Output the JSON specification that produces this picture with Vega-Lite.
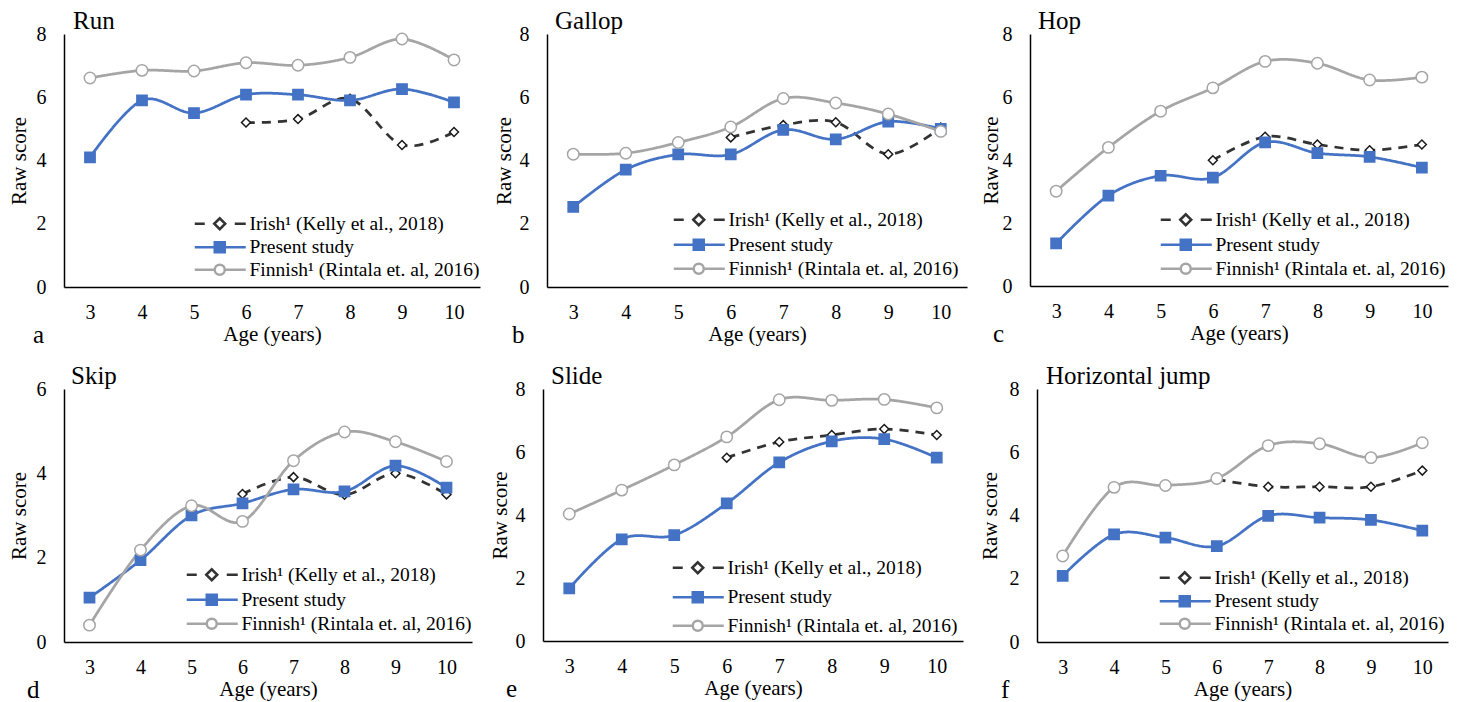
{
  "$schema": "https://vega.github.io/schema/vega-lite/v6.json",
  "background": "white",
  "padding": {"left": 8, "top": 9, "right": 0, "bottom": 0},
  "datasets": {
    "scores": [
      {"panel": "Run", "series": "Irish¹ (Kelly et al., 2018)", "age": 6, "score": 5.20},
      {"panel": "Run", "series": "Irish¹ (Kelly et al., 2018)", "age": 7, "score": 5.31},
      {"panel": "Run", "series": "Irish¹ (Kelly et al., 2018)", "age": 8, "score": 5.95},
      {"panel": "Run", "series": "Irish¹ (Kelly et al., 2018)", "age": 9, "score": 4.49},
      {"panel": "Run", "series": "Irish¹ (Kelly et al., 2018)", "age": 10, "score": 4.90},
      {"panel": "Run", "series": "Present study", "age": 3, "score": 4.10},
      {"panel": "Run", "series": "Present study", "age": 4, "score": 5.90},
      {"panel": "Run", "series": "Present study", "age": 5, "score": 5.50},
      {"panel": "Run", "series": "Present study", "age": 6, "score": 6.08},
      {"panel": "Run", "series": "Present study", "age": 7, "score": 6.08},
      {"panel": "Run", "series": "Present study", "age": 8, "score": 5.90},
      {"panel": "Run", "series": "Present study", "age": 9, "score": 6.26},
      {"panel": "Run", "series": "Present study", "age": 10, "score": 5.84},
      {"panel": "Run", "series": "Finnish¹ (Rintala et. al, 2016)", "age": 3, "score": 6.61},
      {"panel": "Run", "series": "Finnish¹ (Rintala et. al, 2016)", "age": 4, "score": 6.85},
      {"panel": "Run", "series": "Finnish¹ (Rintala et. al, 2016)", "age": 5, "score": 6.83},
      {"panel": "Run", "series": "Finnish¹ (Rintala et. al, 2016)", "age": 6, "score": 7.09},
      {"panel": "Run", "series": "Finnish¹ (Rintala et. al, 2016)", "age": 7, "score": 7.01},
      {"panel": "Run", "series": "Finnish¹ (Rintala et. al, 2016)", "age": 8, "score": 7.26},
      {"panel": "Run", "series": "Finnish¹ (Rintala et. al, 2016)", "age": 9, "score": 7.84},
      {"panel": "Run", "series": "Finnish¹ (Rintala et. al, 2016)", "age": 10, "score": 7.18},

      {"panel": "Gallop", "series": "Irish¹ (Kelly et al., 2018)", "age": 6, "score": 4.73},
      {"panel": "Gallop", "series": "Irish¹ (Kelly et al., 2018)", "age": 7, "score": 5.12},
      {"panel": "Gallop", "series": "Irish¹ (Kelly et al., 2018)", "age": 8, "score": 5.21},
      {"panel": "Gallop", "series": "Irish¹ (Kelly et al., 2018)", "age": 9, "score": 4.20},
      {"panel": "Gallop", "series": "Irish¹ (Kelly et al., 2018)", "age": 10, "score": 5.04},
      {"panel": "Gallop", "series": "Present study", "age": 3, "score": 2.53},
      {"panel": "Gallop", "series": "Present study", "age": 4, "score": 3.71},
      {"panel": "Gallop", "series": "Present study", "age": 5, "score": 4.19},
      {"panel": "Gallop", "series": "Present study", "age": 6, "score": 4.19},
      {"panel": "Gallop", "series": "Present study", "age": 7, "score": 4.97},
      {"panel": "Gallop", "series": "Present study", "age": 8, "score": 4.67},
      {"panel": "Gallop", "series": "Present study", "age": 9, "score": 5.23},
      {"panel": "Gallop", "series": "Present study", "age": 10, "score": 5.00},
      {"panel": "Gallop", "series": "Finnish¹ (Rintala et. al, 2016)", "age": 3, "score": 4.20},
      {"panel": "Gallop", "series": "Finnish¹ (Rintala et. al, 2016)", "age": 4, "score": 4.23},
      {"panel": "Gallop", "series": "Finnish¹ (Rintala et. al, 2016)", "age": 5, "score": 4.57},
      {"panel": "Gallop", "series": "Finnish¹ (Rintala et. al, 2016)", "age": 6, "score": 5.06},
      {"panel": "Gallop", "series": "Finnish¹ (Rintala et. al, 2016)", "age": 7, "score": 5.96},
      {"panel": "Gallop", "series": "Finnish¹ (Rintala et. al, 2016)", "age": 8, "score": 5.82},
      {"panel": "Gallop", "series": "Finnish¹ (Rintala et. al, 2016)", "age": 9, "score": 5.47},
      {"panel": "Gallop", "series": "Finnish¹ (Rintala et. al, 2016)", "age": 10, "score": 4.92},

      {"panel": "Hop", "series": "Irish¹ (Kelly et al., 2018)", "age": 6, "score": 3.99},
      {"panel": "Hop", "series": "Irish¹ (Kelly et al., 2018)", "age": 7, "score": 4.74},
      {"panel": "Hop", "series": "Irish¹ (Kelly et al., 2018)", "age": 8, "score": 4.49},
      {"panel": "Hop", "series": "Irish¹ (Kelly et al., 2018)", "age": 9, "score": 4.31},
      {"panel": "Hop", "series": "Irish¹ (Kelly et al., 2018)", "age": 10, "score": 4.49},
      {"panel": "Hop", "series": "Present study", "age": 3, "score": 1.35},
      {"panel": "Hop", "series": "Present study", "age": 4, "score": 2.87},
      {"panel": "Hop", "series": "Present study", "age": 5, "score": 3.50},
      {"panel": "Hop", "series": "Present study", "age": 6, "score": 3.44},
      {"panel": "Hop", "series": "Present study", "age": 7, "score": 4.56},
      {"panel": "Hop", "series": "Present study", "age": 8, "score": 4.22},
      {"panel": "Hop", "series": "Present study", "age": 9, "score": 4.10},
      {"panel": "Hop", "series": "Present study", "age": 10, "score": 3.76},
      {"panel": "Hop", "series": "Finnish¹ (Rintala et. al, 2016)", "age": 3, "score": 3.01},
      {"panel": "Hop", "series": "Finnish¹ (Rintala et. al, 2016)", "age": 4, "score": 4.40},
      {"panel": "Hop", "series": "Finnish¹ (Rintala et. al, 2016)", "age": 5, "score": 5.55},
      {"panel": "Hop", "series": "Finnish¹ (Rintala et. al, 2016)", "age": 6, "score": 6.29},
      {"panel": "Hop", "series": "Finnish¹ (Rintala et. al, 2016)", "age": 7, "score": 7.13},
      {"panel": "Hop", "series": "Finnish¹ (Rintala et. al, 2016)", "age": 8, "score": 7.07},
      {"panel": "Hop", "series": "Finnish¹ (Rintala et. al, 2016)", "age": 9, "score": 6.54},
      {"panel": "Hop", "series": "Finnish¹ (Rintala et. al, 2016)", "age": 10, "score": 6.63},

      {"panel": "Skip", "series": "Irish¹ (Kelly et al., 2018)", "age": 6, "score": 3.51},
      {"panel": "Skip", "series": "Irish¹ (Kelly et al., 2018)", "age": 7, "score": 3.91},
      {"panel": "Skip", "series": "Irish¹ (Kelly et al., 2018)", "age": 8, "score": 3.49},
      {"panel": "Skip", "series": "Irish¹ (Kelly et al., 2018)", "age": 9, "score": 4.00},
      {"panel": "Skip", "series": "Irish¹ (Kelly et al., 2018)", "age": 10, "score": 3.50},
      {"panel": "Skip", "series": "Present study", "age": 3, "score": 1.05},
      {"panel": "Skip", "series": "Present study", "age": 4, "score": 1.94},
      {"panel": "Skip", "series": "Present study", "age": 5, "score": 3.00},
      {"panel": "Skip", "series": "Present study", "age": 6, "score": 3.29},
      {"panel": "Skip", "series": "Present study", "age": 7, "score": 3.62},
      {"panel": "Skip", "series": "Present study", "age": 8, "score": 3.57},
      {"panel": "Skip", "series": "Present study", "age": 9, "score": 4.18},
      {"panel": "Skip", "series": "Present study", "age": 10, "score": 3.66},
      {"panel": "Skip", "series": "Finnish¹ (Rintala et. al, 2016)", "age": 3, "score": 0.40},
      {"panel": "Skip", "series": "Finnish¹ (Rintala et. al, 2016)", "age": 4, "score": 2.18},
      {"panel": "Skip", "series": "Finnish¹ (Rintala et. al, 2016)", "age": 5, "score": 3.23},
      {"panel": "Skip", "series": "Finnish¹ (Rintala et. al, 2016)", "age": 6, "score": 2.86},
      {"panel": "Skip", "series": "Finnish¹ (Rintala et. al, 2016)", "age": 7, "score": 4.30},
      {"panel": "Skip", "series": "Finnish¹ (Rintala et. al, 2016)", "age": 8, "score": 4.98},
      {"panel": "Skip", "series": "Finnish¹ (Rintala et. al, 2016)", "age": 9, "score": 4.75},
      {"panel": "Skip", "series": "Finnish¹ (Rintala et. al, 2016)", "age": 10, "score": 4.28},

      {"panel": "Slide", "series": "Irish¹ (Kelly et al., 2018)", "age": 6, "score": 5.82},
      {"panel": "Slide", "series": "Irish¹ (Kelly et al., 2018)", "age": 7, "score": 6.32},
      {"panel": "Slide", "series": "Irish¹ (Kelly et al., 2018)", "age": 8, "score": 6.54},
      {"panel": "Slide", "series": "Irish¹ (Kelly et al., 2018)", "age": 9, "score": 6.73},
      {"panel": "Slide", "series": "Irish¹ (Kelly et al., 2018)", "age": 10, "score": 6.54},
      {"panel": "Slide", "series": "Present study", "age": 3, "score": 1.67},
      {"panel": "Slide", "series": "Present study", "age": 4, "score": 3.23},
      {"panel": "Slide", "series": "Present study", "age": 5, "score": 3.36},
      {"panel": "Slide", "series": "Present study", "age": 6, "score": 4.37},
      {"panel": "Slide", "series": "Present study", "age": 7, "score": 5.67},
      {"panel": "Slide", "series": "Present study", "age": 8, "score": 6.34},
      {"panel": "Slide", "series": "Present study", "age": 9, "score": 6.41},
      {"panel": "Slide", "series": "Present study", "age": 10, "score": 5.82},
      {"panel": "Slide", "series": "Finnish¹ (Rintala et. al, 2016)", "age": 3, "score": 4.03},
      {"panel": "Slide", "series": "Finnish¹ (Rintala et. al, 2016)", "age": 4, "score": 4.79},
      {"panel": "Slide", "series": "Finnish¹ (Rintala et. al, 2016)", "age": 5, "score": 5.59},
      {"panel": "Slide", "series": "Finnish¹ (Rintala et. al, 2016)", "age": 6, "score": 6.48},
      {"panel": "Slide", "series": "Finnish¹ (Rintala et. al, 2016)", "age": 7, "score": 7.66},
      {"panel": "Slide", "series": "Finnish¹ (Rintala et. al, 2016)", "age": 8, "score": 7.64},
      {"panel": "Slide", "series": "Finnish¹ (Rintala et. al, 2016)", "age": 9, "score": 7.67},
      {"panel": "Slide", "series": "Finnish¹ (Rintala et. al, 2016)", "age": 10, "score": 7.40},

      {"panel": "Horizontal jump", "series": "Irish¹ (Kelly et al., 2018)", "age": 6, "score": 5.14},
      {"panel": "Horizontal jump", "series": "Irish¹ (Kelly et al., 2018)", "age": 7, "score": 4.91},
      {"panel": "Horizontal jump", "series": "Irish¹ (Kelly et al., 2018)", "age": 8, "score": 4.91},
      {"panel": "Horizontal jump", "series": "Irish¹ (Kelly et al., 2018)", "age": 9, "score": 4.91},
      {"panel": "Horizontal jump", "series": "Irish¹ (Kelly et al., 2018)", "age": 10, "score": 5.42},
      {"panel": "Horizontal jump", "series": "Present study", "age": 3, "score": 2.09},
      {"panel": "Horizontal jump", "series": "Present study", "age": 4, "score": 3.40},
      {"panel": "Horizontal jump", "series": "Present study", "age": 5, "score": 3.30},
      {"panel": "Horizontal jump", "series": "Present study", "age": 6, "score": 3.03},
      {"panel": "Horizontal jump", "series": "Present study", "age": 7, "score": 3.99},
      {"panel": "Horizontal jump", "series": "Present study", "age": 8, "score": 3.93},
      {"panel": "Horizontal jump", "series": "Present study", "age": 9, "score": 3.86},
      {"panel": "Horizontal jump", "series": "Present study", "age": 10, "score": 3.52},
      {"panel": "Horizontal jump", "series": "Finnish¹ (Rintala et. al, 2016)", "age": 3, "score": 2.72},
      {"panel": "Horizontal jump", "series": "Finnish¹ (Rintala et. al, 2016)", "age": 4, "score": 4.89},
      {"panel": "Horizontal jump", "series": "Finnish¹ (Rintala et. al, 2016)", "age": 5, "score": 4.95},
      {"panel": "Horizontal jump", "series": "Finnish¹ (Rintala et. al, 2016)", "age": 6, "score": 5.17},
      {"panel": "Horizontal jump", "series": "Finnish¹ (Rintala et. al, 2016)", "age": 7, "score": 6.21},
      {"panel": "Horizontal jump", "series": "Finnish¹ (Rintala et. al, 2016)", "age": 8, "score": 6.27},
      {"panel": "Horizontal jump", "series": "Finnish¹ (Rintala et. al, 2016)", "age": 9, "score": 5.83},
      {"panel": "Horizontal jump", "series": "Finnish¹ (Rintala et. al, 2016)", "age": 10, "score": 6.30}
    ]
  },
  "data": {"name": "scores"},
  "spacing": 16,
  "vconcat": [
    {
      "spacing": 13,
      "hconcat": [
        {
          "title": {"text": "a", "orient": "bottom", "anchor": "start", "offset": -21, "dx": 25},
          "vconcat": [{
            "width": 416, "height": 253,
            "title": {"text": "Run", "anchor": "start", "frame": "group", "dx": 9, "offset": -10},
            "transform": [{"filter": "datum.panel === 'Run'"}],
            "resolve": {"scale": {"shape": "independent", "fill": "independent", "stroke": "independent"}},
            "encoding": {
              "x": {"field": "age", "type": "quantitative", "scale": {"domain": [2.5, 10.5], "nice": false}, "axis": {"values": [3, 4, 5, 6, 7, 8, 9, 10], "title": "Age (years)"}},
              "y": {"field": "score", "type": "quantitative", "scale": {"domain": [0, 8], "nice": false}, "axis": {"values": [0, 2, 4, 6, 8], "title": "Raw score", "titlePadding": 7}}
            },
            "layer": [
              {"mark": {"type": "line", "interpolate": "cardinal", "strokeWidth": 2.75},
               "encoding": {
                 "color": {"field": "series", "type": "nominal", "scale": {"domain": ["Irish¹ (Kelly et al., 2018)", "Present study", "Finnish¹ (Rintala et. al, 2016)"], "range": ["#333333", "#4472C4", "#A5A5A5"]}, "legend": null},
                 "strokeDash": {"field": "series", "type": "nominal", "scale": {"domain": ["Irish¹ (Kelly et al., 2018)", "Present study", "Finnish¹ (Rintala et. al, 2016)"], "range": [[9, 7], [1, 0], [1, 0]]}, "legend": null}
               }},
              {"mark": {"type": "point", "filled": true, "strokeWidth": 1.5, "opacity": 1},
               "encoding": {
                 "shape": {"field": "series", "type": "nominal", "scale": {"domain": ["Irish¹ (Kelly et al., 2018)", "Present study", "Finnish¹ (Rintala et. al, 2016)"], "range": ["diamond", "square", "circle"]}, "legend": null},
                 "fill": {"field": "series", "type": "nominal", "scale": {"domain": ["Irish¹ (Kelly et al., 2018)", "Present study", "Finnish¹ (Rintala et. al, 2016)"], "range": ["#ffffff", "#4472C4", "#ffffff"]}, "legend": null},
                 "stroke": {"field": "series", "type": "nominal", "scale": {"domain": ["Irish¹ (Kelly et al., 2018)", "Present study", "Finnish¹ (Rintala et. al, 2016)"], "range": ["#1a1a1a", "#4472C4", "#A5A5A5"]}, "legend": null},
                 "size": {"field": "series", "type": "ordinal", "scale": {"domain": ["Irish¹ (Kelly et al., 2018)", "Present study", "Finnish¹ (Rintala et. al, 2016)"], "range": [80, 130, 110]}, "legend": null}
               }},
              {"mark": {"type": "point", "filled": true, "opacity": 0, "size": 100},
               "encoding": {
                 "shape": {"field": "series", "type": "nominal", "scale": {"domain": ["Irish¹ (Kelly et al., 2018)", "Present study", "Finnish¹ (Rintala et. al, 2016)"], "range": ["M-5,0H-3M-1.1,0L0,-1.1L1.1,0L0,1.1ZM3,0H5.2", "M-5,0H5.2M-1,-1H1V1H-1Z", "M-5,0H-1M1,0H5.2M-1,0A1,1 0 1,0 1,0A1,1 0 1,0 -1,0Z"]},
                   "legend": {"title": " ", "titleOrient": "bottom", "titleFontSize": 1, "titlePadding": 6, "offset": 0, "rowPadding": 1.5}},
                 "fill": {"field": "series", "type": "nominal", "scale": {"domain": ["Irish¹ (Kelly et al., 2018)", "Present study", "Finnish¹ (Rintala et. al, 2016)"], "range": ["#ffffff", "#4472C4", "#ffffff"]}},
                 "stroke": {"field": "series", "type": "nominal", "scale": {"domain": ["Irish¹ (Kelly et al., 2018)", "Present study", "Finnish¹ (Rintala et. al, 2016)"], "range": ["#333333", "#4472C4", "#A5A5A5"]}}
               }}
            ]
          }]
        },
        {
          "title": {"text": "b", "orient": "bottom", "anchor": "start", "offset": -21, "dx": 19},
          "vconcat": [{
            "width": 420, "height": 253,
            "title": {"text": "Gallop", "anchor": "start", "frame": "group", "dx": 8, "offset": -10},
            "transform": [{"filter": "datum.panel === 'Gallop'"}],
            "resolve": {"scale": {"shape": "independent", "fill": "independent", "stroke": "independent"}},
            "encoding": {
              "x": {"field": "age", "type": "quantitative", "scale": {"domain": [2.5, 10.5], "nice": false}, "axis": {"values": [3, 4, 5, 6, 7, 8, 9, 10], "title": "Age (years)"}},
              "y": {"field": "score", "type": "quantitative", "scale": {"domain": [0, 8], "nice": false}, "axis": {"values": [0, 2, 4, 6, 8], "title": "Raw score", "titlePadding": 5}}
            },
            "layer": [
              {"mark": {"type": "line", "interpolate": "cardinal", "strokeWidth": 2.75},
               "encoding": {
                 "color": {"field": "series", "type": "nominal", "scale": {"domain": ["Irish¹ (Kelly et al., 2018)", "Present study", "Finnish¹ (Rintala et. al, 2016)"], "range": ["#333333", "#4472C4", "#A5A5A5"]}, "legend": null},
                 "strokeDash": {"field": "series", "type": "nominal", "scale": {"domain": ["Irish¹ (Kelly et al., 2018)", "Present study", "Finnish¹ (Rintala et. al, 2016)"], "range": [[9, 7], [1, 0], [1, 0]]}, "legend": null}
               }},
              {"mark": {"type": "point", "filled": true, "strokeWidth": 1.5, "opacity": 1},
               "encoding": {
                 "shape": {"field": "series", "type": "nominal", "scale": {"domain": ["Irish¹ (Kelly et al., 2018)", "Present study", "Finnish¹ (Rintala et. al, 2016)"], "range": ["diamond", "square", "circle"]}, "legend": null},
                 "fill": {"field": "series", "type": "nominal", "scale": {"domain": ["Irish¹ (Kelly et al., 2018)", "Present study", "Finnish¹ (Rintala et. al, 2016)"], "range": ["#ffffff", "#4472C4", "#ffffff"]}, "legend": null},
                 "stroke": {"field": "series", "type": "nominal", "scale": {"domain": ["Irish¹ (Kelly et al., 2018)", "Present study", "Finnish¹ (Rintala et. al, 2016)"], "range": ["#1a1a1a", "#4472C4", "#A5A5A5"]}, "legend": null},
                 "size": {"field": "series", "type": "ordinal", "scale": {"domain": ["Irish¹ (Kelly et al., 2018)", "Present study", "Finnish¹ (Rintala et. al, 2016)"], "range": [80, 130, 110]}, "legend": null}
               }},
              {"mark": {"type": "point", "filled": true, "opacity": 0, "size": 100},
               "encoding": {
                 "shape": {"field": "series", "type": "nominal", "scale": {"domain": ["Irish¹ (Kelly et al., 2018)", "Present study", "Finnish¹ (Rintala et. al, 2016)"], "range": ["M-5,0H-3M-1.1,0L0,-1.1L1.1,0L0,1.1ZM3,0H5.2", "M-5,0H5.2M-1,-1H1V1H-1Z", "M-5,0H-1M1,0H5.2M-1,0A1,1 0 1,0 1,0A1,1 0 1,0 -1,0Z"]},
                   "legend": {"title": null, "offset": 8, "rowPadding": 3}},
                 "fill": {"field": "series", "type": "nominal", "scale": {"domain": ["Irish¹ (Kelly et al., 2018)", "Present study", "Finnish¹ (Rintala et. al, 2016)"], "range": ["#ffffff", "#4472C4", "#ffffff"]}},
                 "stroke": {"field": "series", "type": "nominal", "scale": {"domain": ["Irish¹ (Kelly et al., 2018)", "Present study", "Finnish¹ (Rintala et. al, 2016)"], "range": ["#333333", "#4472C4", "#A5A5A5"]}}
               }}
            ]
          }]
        },
        {
          "title": {"text": "c", "orient": "bottom", "anchor": "start", "offset": -21, "dx": 13},
          "vconcat": [{
            "width": 418, "height": 252,
            "title": {"text": "Hop", "anchor": "start", "frame": "group", "dx": 8, "offset": -10},
            "transform": [{"filter": "datum.panel === 'Hop'"}],
            "resolve": {"scale": {"shape": "independent", "fill": "independent", "stroke": "independent"}},
            "encoding": {
              "x": {"field": "age", "type": "quantitative", "scale": {"domain": [2.5, 10.5], "nice": false}, "axis": {"values": [3, 4, 5, 6, 7, 8, 9, 10], "title": "Age (years)"}},
              "y": {"field": "score", "type": "quantitative", "scale": {"domain": [0, 8], "nice": false}, "axis": {"values": [0, 2, 4, 6, 8], "title": "Raw score", "titlePadding": 1}}
            },
            "layer": [
              {"mark": {"type": "line", "interpolate": "cardinal", "strokeWidth": 2.75},
               "encoding": {
                 "color": {"field": "series", "type": "nominal", "scale": {"domain": ["Irish¹ (Kelly et al., 2018)", "Present study", "Finnish¹ (Rintala et. al, 2016)"], "range": ["#333333", "#4472C4", "#A5A5A5"]}, "legend": null},
                 "strokeDash": {"field": "series", "type": "nominal", "scale": {"domain": ["Irish¹ (Kelly et al., 2018)", "Present study", "Finnish¹ (Rintala et. al, 2016)"], "range": [[9, 7], [1, 0], [1, 0]]}, "legend": null}
               }},
              {"mark": {"type": "point", "filled": true, "strokeWidth": 1.5, "opacity": 1},
               "encoding": {
                 "shape": {"field": "series", "type": "nominal", "scale": {"domain": ["Irish¹ (Kelly et al., 2018)", "Present study", "Finnish¹ (Rintala et. al, 2016)"], "range": ["diamond", "square", "circle"]}, "legend": null},
                 "fill": {"field": "series", "type": "nominal", "scale": {"domain": ["Irish¹ (Kelly et al., 2018)", "Present study", "Finnish¹ (Rintala et. al, 2016)"], "range": ["#ffffff", "#4472C4", "#ffffff"]}, "legend": null},
                 "stroke": {"field": "series", "type": "nominal", "scale": {"domain": ["Irish¹ (Kelly et al., 2018)", "Present study", "Finnish¹ (Rintala et. al, 2016)"], "range": ["#1a1a1a", "#4472C4", "#A5A5A5"]}, "legend": null},
                 "size": {"field": "series", "type": "ordinal", "scale": {"domain": ["Irish¹ (Kelly et al., 2018)", "Present study", "Finnish¹ (Rintala et. al, 2016)"], "range": [80, 130, 110]}, "legend": null}
               }},
              {"mark": {"type": "point", "filled": true, "opacity": 0, "size": 100},
               "encoding": {
                 "shape": {"field": "series", "type": "nominal", "scale": {"domain": ["Irish¹ (Kelly et al., 2018)", "Present study", "Finnish¹ (Rintala et. al, 2016)"], "range": ["M-5,0H-3M-1.1,0L0,-1.1L1.1,0L0,1.1ZM3,0H5.2", "M-5,0H5.2M-1,-1H1V1H-1Z", "M-5,0H-1M1,0H5.2M-1,0A1,1 0 1,0 1,0A1,1 0 1,0 -1,0Z"]},
                   "legend": {"title": " ", "titleOrient": "bottom", "titleFontSize": 1, "titlePadding": 4, "offset": 2, "rowPadding": 3}},
                 "fill": {"field": "series", "type": "nominal", "scale": {"domain": ["Irish¹ (Kelly et al., 2018)", "Present study", "Finnish¹ (Rintala et. al, 2016)"], "range": ["#ffffff", "#4472C4", "#ffffff"]}},
                 "stroke": {"field": "series", "type": "nominal", "scale": {"domain": ["Irish¹ (Kelly et al., 2018)", "Present study", "Finnish¹ (Rintala et. al, 2016)"], "range": ["#333333", "#4472C4", "#A5A5A5"]}}
               }}
            ]
          }]
        }
      ]
    },
    {
      "spacing": 16,
      "hconcat": [
        {
          "title": {"text": "d", "orient": "bottom", "anchor": "start", "offset": -21, "dx": 19},
          "vconcat": [{
            "width": 408, "height": 253,
            "title": {"text": "Skip", "anchor": "start", "frame": "group", "dx": 7, "offset": -10},
            "transform": [{"filter": "datum.panel === 'Skip'"}],
            "resolve": {"scale": {"shape": "independent", "fill": "independent", "stroke": "independent"}},
            "encoding": {
              "x": {"field": "age", "type": "quantitative", "scale": {"domain": [2.5, 10.5], "nice": false}, "axis": {"values": [3, 4, 5, 6, 7, 8, 9, 10], "title": "Age (years)"}},
              "y": {"field": "score", "type": "quantitative", "scale": {"domain": [0, 6], "nice": false}, "axis": {"values": [0, 2, 4, 6], "title": "Raw score", "titlePadding": 7}}
            },
            "layer": [
              {"mark": {"type": "line", "interpolate": "cardinal", "strokeWidth": 2.75},
               "encoding": {
                 "color": {"field": "series", "type": "nominal", "scale": {"domain": ["Irish¹ (Kelly et al., 2018)", "Present study", "Finnish¹ (Rintala et. al, 2016)"], "range": ["#333333", "#4472C4", "#A5A5A5"]}, "legend": null},
                 "strokeDash": {"field": "series", "type": "nominal", "scale": {"domain": ["Irish¹ (Kelly et al., 2018)", "Present study", "Finnish¹ (Rintala et. al, 2016)"], "range": [[9, 7], [1, 0], [1, 0]]}, "legend": null}
               }},
              {"mark": {"type": "point", "filled": true, "strokeWidth": 1.5, "opacity": 1},
               "encoding": {
                 "shape": {"field": "series", "type": "nominal", "scale": {"domain": ["Irish¹ (Kelly et al., 2018)", "Present study", "Finnish¹ (Rintala et. al, 2016)"], "range": ["diamond", "square", "circle"]}, "legend": null},
                 "fill": {"field": "series", "type": "nominal", "scale": {"domain": ["Irish¹ (Kelly et al., 2018)", "Present study", "Finnish¹ (Rintala et. al, 2016)"], "range": ["#ffffff", "#4472C4", "#ffffff"]}, "legend": null},
                 "stroke": {"field": "series", "type": "nominal", "scale": {"domain": ["Irish¹ (Kelly et al., 2018)", "Present study", "Finnish¹ (Rintala et. al, 2016)"], "range": ["#1a1a1a", "#4472C4", "#A5A5A5"]}, "legend": null},
                 "size": {"field": "series", "type": "ordinal", "scale": {"domain": ["Irish¹ (Kelly et al., 2018)", "Present study", "Finnish¹ (Rintala et. al, 2016)"], "range": [80, 130, 110]}, "legend": null}
               }},
              {"mark": {"type": "point", "filled": true, "opacity": 0, "size": 100},
               "encoding": {
                 "shape": {"field": "series", "type": "nominal", "scale": {"domain": ["Irish¹ (Kelly et al., 2018)", "Present study", "Finnish¹ (Rintala et. al, 2016)"], "range": ["M-5,0H-3M-1.1,0L0,-1.1L1.1,0L0,1.1ZM3,0H5.2", "M-5,0H5.2M-1,-1H1V1H-1Z", "M-5,0H-1M1,0H5.2M-1,0A1,1 0 1,0 1,0A1,1 0 1,0 -1,0Z"]},
                   "legend": {"title": " ", "titleOrient": "bottom", "titleFontSize": 1, "titlePadding": 7, "offset": 0, "rowPadding": 3}},
                 "fill": {"field": "series", "type": "nominal", "scale": {"domain": ["Irish¹ (Kelly et al., 2018)", "Present study", "Finnish¹ (Rintala et. al, 2016)"], "range": ["#ffffff", "#4472C4", "#ffffff"]}},
                 "stroke": {"field": "series", "type": "nominal", "scale": {"domain": ["Irish¹ (Kelly et al., 2018)", "Present study", "Finnish¹ (Rintala et. al, 2016)"], "range": ["#333333", "#4472C4", "#A5A5A5"]}}
               }}
            ]
          }]
        },
        {
          "title": {"text": "e", "orient": "bottom", "anchor": "start", "offset": -21, "dx": 17},
          "vconcat": [{
            "width": 420, "height": 252,
            "title": {"text": "Slide", "anchor": "start", "frame": "group", "dx": 8, "offset": -10},
            "transform": [{"filter": "datum.panel === 'Slide'"}],
            "resolve": {"scale": {"shape": "independent", "fill": "independent", "stroke": "independent"}},
            "encoding": {
              "x": {"field": "age", "type": "quantitative", "scale": {"domain": [2.5, 10.5], "nice": false}, "axis": {"values": [3, 4, 5, 6, 7, 8, 9, 10], "title": "Age (years)"}},
              "y": {"field": "score", "type": "quantitative", "scale": {"domain": [0, 8], "nice": false}, "axis": {"values": [0, 2, 4, 6, 8], "title": "Raw score", "titlePadding": 5}}
            },
            "layer": [
              {"mark": {"type": "line", "interpolate": "cardinal", "strokeWidth": 2.75},
               "encoding": {
                 "color": {"field": "series", "type": "nominal", "scale": {"domain": ["Irish¹ (Kelly et al., 2018)", "Present study", "Finnish¹ (Rintala et. al, 2016)"], "range": ["#333333", "#4472C4", "#A5A5A5"]}, "legend": null},
                 "strokeDash": {"field": "series", "type": "nominal", "scale": {"domain": ["Irish¹ (Kelly et al., 2018)", "Present study", "Finnish¹ (Rintala et. al, 2016)"], "range": [[9, 7], [1, 0], [1, 0]]}, "legend": null}
               }},
              {"mark": {"type": "point", "filled": true, "strokeWidth": 1.5, "opacity": 1},
               "encoding": {
                 "shape": {"field": "series", "type": "nominal", "scale": {"domain": ["Irish¹ (Kelly et al., 2018)", "Present study", "Finnish¹ (Rintala et. al, 2016)"], "range": ["diamond", "square", "circle"]}, "legend": null},
                 "fill": {"field": "series", "type": "nominal", "scale": {"domain": ["Irish¹ (Kelly et al., 2018)", "Present study", "Finnish¹ (Rintala et. al, 2016)"], "range": ["#ffffff", "#4472C4", "#ffffff"]}, "legend": null},
                 "stroke": {"field": "series", "type": "nominal", "scale": {"domain": ["Irish¹ (Kelly et al., 2018)", "Present study", "Finnish¹ (Rintala et. al, 2016)"], "range": ["#1a1a1a", "#4472C4", "#A5A5A5"]}, "legend": null},
                 "size": {"field": "series", "type": "ordinal", "scale": {"domain": ["Irish¹ (Kelly et al., 2018)", "Present study", "Finnish¹ (Rintala et. al, 2016)"], "range": [80, 130, 110]}, "legend": null}
               }},
              {"mark": {"type": "point", "filled": true, "opacity": 0, "size": 100},
               "encoding": {
                 "shape": {"field": "series", "type": "nominal", "scale": {"domain": ["Irish¹ (Kelly et al., 2018)", "Present study", "Finnish¹ (Rintala et. al, 2016)"], "range": ["M-5,0H-3M-1.1,0L0,-1.1L1.1,0L0,1.1ZM3,0H5.2", "M-5,0H5.2M-1,-1H1V1H-1Z", "M-5,0H-1M1,0H5.2M-1,0A1,1 0 1,0 1,0A1,1 0 1,0 -1,0Z"]},
                   "legend": {"title": null, "offset": 5, "rowPadding": 7.5}},
                 "fill": {"field": "series", "type": "nominal", "scale": {"domain": ["Irish¹ (Kelly et al., 2018)", "Present study", "Finnish¹ (Rintala et. al, 2016)"], "range": ["#ffffff", "#4472C4", "#ffffff"]}},
                 "stroke": {"field": "series", "type": "nominal", "scale": {"domain": ["Irish¹ (Kelly et al., 2018)", "Present study", "Finnish¹ (Rintala et. al, 2016)"], "range": ["#333333", "#4472C4", "#A5A5A5"]}}
               }}
            ]
          }]
        },
        {
          "title": {"text": "f", "orient": "bottom", "anchor": "start", "offset": -21, "dx": 22},
          "vconcat": [{
            "width": 411, "height": 253,
            "title": {"text": "Horizontal jump", "anchor": "start", "frame": "group", "dx": 9, "offset": -10},
            "transform": [{"filter": "datum.panel === 'Horizontal jump'"}],
            "resolve": {"scale": {"shape": "independent", "fill": "independent", "stroke": "independent"}},
            "encoding": {
              "x": {"field": "age", "type": "quantitative", "scale": {"domain": [2.5, 10.5], "nice": false}, "axis": {"values": [3, 4, 5, 6, 7, 8, 9, 10], "title": "Age (years)"}},
              "y": {"field": "score", "type": "quantitative", "scale": {"domain": [0, 8], "nice": false}, "axis": {"values": [0, 2, 4, 6, 8], "title": "Raw score", "titlePadding": 9}}
            },
            "layer": [
              {"mark": {"type": "line", "interpolate": "cardinal", "strokeWidth": 2.75},
               "encoding": {
                 "color": {"field": "series", "type": "nominal", "scale": {"domain": ["Irish¹ (Kelly et al., 2018)", "Present study", "Finnish¹ (Rintala et. al, 2016)"], "range": ["#333333", "#4472C4", "#A5A5A5"]}, "legend": null},
                 "strokeDash": {"field": "series", "type": "nominal", "scale": {"domain": ["Irish¹ (Kelly et al., 2018)", "Present study", "Finnish¹ (Rintala et. al, 2016)"], "range": [[9, 7], [1, 0], [1, 0]]}, "legend": null}
               }},
              {"mark": {"type": "point", "filled": true, "strokeWidth": 1.5, "opacity": 1},
               "encoding": {
                 "shape": {"field": "series", "type": "nominal", "scale": {"domain": ["Irish¹ (Kelly et al., 2018)", "Present study", "Finnish¹ (Rintala et. al, 2016)"], "range": ["diamond", "square", "circle"]}, "legend": null},
                 "fill": {"field": "series", "type": "nominal", "scale": {"domain": ["Irish¹ (Kelly et al., 2018)", "Present study", "Finnish¹ (Rintala et. al, 2016)"], "range": ["#ffffff", "#4472C4", "#ffffff"]}, "legend": null},
                 "stroke": {"field": "series", "type": "nominal", "scale": {"domain": ["Irish¹ (Kelly et al., 2018)", "Present study", "Finnish¹ (Rintala et. al, 2016)"], "range": ["#1a1a1a", "#4472C4", "#A5A5A5"]}, "legend": null},
                 "size": {"field": "series", "type": "ordinal", "scale": {"domain": ["Irish¹ (Kelly et al., 2018)", "Present study", "Finnish¹ (Rintala et. al, 2016)"], "range": [80, 130, 110]}, "legend": null}
               }},
              {"mark": {"type": "point", "filled": true, "opacity": 0, "size": 100},
               "encoding": {
                 "shape": {"field": "series", "type": "nominal", "scale": {"domain": ["Irish¹ (Kelly et al., 2018)", "Present study", "Finnish¹ (Rintala et. al, 2016)"], "range": ["M-5,0H-3M-1.1,0L0,-1.1L1.1,0L0,1.1ZM3,0H5.2", "M-5,0H5.2M-1,-1H1V1H-1Z", "M-5,0H-1M1,0H5.2M-1,0A1,1 0 1,0 1,0A1,1 0 1,0 -1,0Z"]},
                   "legend": {"title": " ", "titleOrient": "bottom", "titleFontSize": 1, "titlePadding": 4, "offset": 3, "rowPadding": 1.5}},
                 "fill": {"field": "series", "type": "nominal", "scale": {"domain": ["Irish¹ (Kelly et al., 2018)", "Present study", "Finnish¹ (Rintala et. al, 2016)"], "range": ["#ffffff", "#4472C4", "#ffffff"]}},
                 "stroke": {"field": "series", "type": "nominal", "scale": {"domain": ["Irish¹ (Kelly et al., 2018)", "Present study", "Finnish¹ (Rintala et. al, 2016)"], "range": ["#333333", "#4472C4", "#A5A5A5"]}}
               }}
            ]
          }]
        }
      ]
    }
  ],
  "config": {
    "font": "Liberation Serif",
    "view": {"stroke": null},
    "axis": {"domainColor": "#000000", "domainWidth": 1.5, "ticks": false, "grid": false, "labelFontSize": 20, "labelColor": "#000000", "labelFont": "Liberation Serif", "titleFont": "Liberation Serif", "titleFontSize": 21, "titleFontWeight": "normal", "titleColor": "#000000"},
    "axisX": {"titlePadding": 1, "labelPadding": 15},
    "axisY": {"labelPadding": 18},
    "legend": {"labelFont": "Liberation Serif", "labelFontSize": 19.5, "labelColor": "#000000", "orient": "bottom-right", "symbolSize": 100, "symbolOffset": 19, "labelOffset": 20, "symbolOpacity": 1, "symbolStrokeWidth": 2.5, "labelLimit": 400},
    "title": {"font": "Liberation Serif", "fontSize": 25, "fontWeight": "normal", "color": "#000000"}
  }
}
